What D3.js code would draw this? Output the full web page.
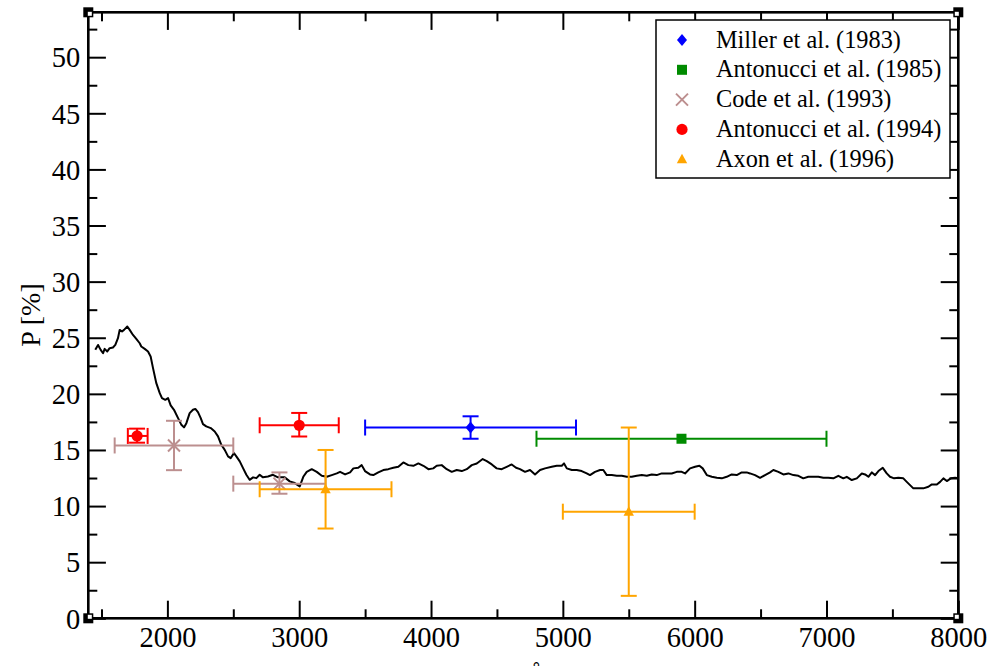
<!DOCTYPE html>
<html><head><meta charset="utf-8">
<script src="https://cdn.jsdelivr.net/npm/d3@7"></script>
<style>body{margin:0;background:#fff}svg{display:block}</style>
</head><body>
<svg id="chart" width="991" height="666"></svg>
<script>
// ---------- data ----------
const curveWavelength = [1453,1474,1494,1512,1524,1544,1562,1587,1605,1625,1638,1656,1671,1696,1714,1739,1764,1790,1802,1828,1853,1873,1891,1916,1942,1959,1984,2005,2025,2050,2081,2106,2126,2144,2169,2194,2212,2232,2253,2270,2295,2329,2359,2384,2409,2435,2460,2480,2505,2523,2549,2574,2599,2624,2650,2675,2700,2725,2763,2801,2839,2890,2928,2966,3004,3031,3057,3095,3133,3171,3209,3247,3285,3310,3348,3386,3411,3448,3474,3499,3537,3562,3600,3638,3676,3714,3752,3790,3828,3866,3904,3942,3980,4017,4043,4081,4119,4157,4195,4233,4271,4309,4347,4392,4423,4461,4498,4536,4574,4612,4645,4675,4713,4751,4789,4827,4865,4916,4954,4992,5009,5030,5068,5105,5143,5181,5206,5244,5282,5307,5333,5371,5409,5447,5485,5523,5561,5599,5637,5674,5712,5750,5788,5826,5864,5902,5927,5965,6003,6036,6061,6092,6130,6168,6206,6243,6281,6319,6357,6395,6420,6458,6496,6534,6572,6597,6635,6673,6711,6749,6787,6824,6862,6900,6938,6976,7014,7052,7090,7128,7154,7192,7230,7268,7293,7318,7344,7369,7394,7427,7457,7482,7513,7545,7583,7609,7634,7659,7697,7735,7773,7799,7837,7862,7887,7913,7943,7976,8000];
const curvePolarization = [23.92,24.36,23.92,23.62,24.01,23.78,24.07,24.13,24.36,24.96,25.70,25.56,25.70,26.0,25.70,25.25,24.90,24.51,24.22,24.01,23.78,23.33,22.29,20.95,20.06,19.62,19.47,19.62,18.97,18.58,17.84,17.24,17.01,17.39,18.28,18.58,18.66,18.37,17.84,17.30,17.10,16.95,16.65,16.21,15.46,15.01,14.43,14.27,14.72,14.43,13.98,13.38,12.79,12.34,12.56,12.49,12.79,12.56,12.64,12.79,12.56,12.56,12.20,12.05,11.75,12.61,13.05,13.29,13.05,12.70,12.61,12.76,12.91,13.05,12.82,13.00,13.36,13.41,13.65,13.12,12.82,12.76,13.00,13.21,13.29,13.41,13.50,13.89,13.65,13.59,13.80,13.59,13.29,13.36,13.59,13.65,13.29,13.05,13.21,13.12,13.29,13.65,13.80,14.19,14.01,13.71,13.36,13.29,13.50,13.71,13.41,13.29,13.05,13.21,12.82,13.21,13.36,13.50,13.59,13.59,13.80,13.36,13.21,13.21,13.12,12.91,12.76,13.05,13.21,13.21,12.76,12.76,12.70,12.70,12.61,12.61,12.70,12.76,12.70,12.82,12.76,12.91,12.91,12.91,13.05,13.05,12.91,13.36,13.50,13.59,13.36,12.76,12.61,12.52,12.47,12.61,12.82,12.76,13.00,13.00,12.91,12.76,12.52,12.76,13.00,13.21,13.05,12.82,12.91,12.76,12.70,12.47,12.61,12.61,12.61,12.52,12.52,12.47,12.70,12.47,12.61,12.32,12.47,12.91,12.82,12.61,13.00,12.76,13.12,13.41,12.91,12.61,12.47,12.52,12.47,12.16,11.87,11.58,11.58,11.58,11.72,11.93,11.93,12.16,12.47,12.23,12.47,12.52,12.49];

const seriesLabels = ["Miller et al. (1983)","Antonucci et al. (1985)","Code et al. (1993)","Antonucci et al. (1994)","Axon et al. (1996)"];
const millerPoints      = [{x:4300,y:17.0,xLo:3500,xHi:5100,yLo:16.0,yHi:18.0}];
const antonucci85Points = [{x:5900,y:16.0,xLo:4800,xHi:7000,yLo:16.0,yHi:16.0}];
const codePoints        = [{x:2050,y:15.4,xLo:1600,xHi:2500,yLo:13.2,yHi:17.6},
                           {x:2850,y:12.0,xLo:2500,xHi:3200,yLo:11.1,yHi:13.0}];
const antonucci94Points = [{x:1770,y:16.25,xLo:1700,xHi:1850,yLo:15.65,yHi:16.9},
                           {x:3000,y:17.2,xLo:2700,xHi:3300,yLo:16.2,yHi:18.3}];
const axonPoints        = [{x:3200,y:11.5,xLo:2700,xHi:3700,yLo:8.0,yHi:15.0},
                           {x:5500,y:9.5,xLo:5000,xHi:6000,yLo:2.0,yHi:17.0}];

const xMajorTicks = [2000,3000,4000,5000,6000,7000,8000];
const xMinorTicks = [1500,2500,3500,4500,5500,6500,7500];
const yMajorTicks = [0,5,10,15,20,25,30,35,40,45,50];
const yMinorTicks = [2.5,7.5,12.5,17.5,22.5,27.5,32.5,37.5,42.5,47.5,52.5];
const yTitle = "P [%]";
const xTitle = "\u03bb [\u00c5]";

// ---------- styles ----------
const seriesColors = ["#0000ff","#008b00","#bc8f8f","#ff0000","#ffa500"];
const seriesSymbols = ["diamond","square","x","circle","triangle"];
const FONT = "'Liberation Serif','Times New Roman',Times,serif";

const L = 88.3, R = 958.3, T = 12.3, B = 618.3;
const svg = d3.select("#chart");
const x = d3.scaleLinear().domain([1400, 8000]).range([L, R]);
const y = d3.scaleLinear().domain([0, 54]).range([B, T]);

function drawSymbol(g, type, color) {
  if (type === "diamond") g.append("path").attr("d","M0,-6L5,0L0,6L-5,0Z").attr("fill",color);
  else if (type === "square") g.append("rect").attr("x",-5).attr("y",-5).attr("width",10).attr("height",10).attr("fill",color);
  else if (type === "circle") g.append("circle").attr("r",5.6).attr("fill",color);
  else if (type === "triangle") g.append("path").attr("d","M0,-5.5L5.2,4L-5.2,4Z").attr("fill",color);
  else if (type === "x") g.append("path").attr("d","M-6,-6L6,6M6,-6L-6,6").attr("stroke",color).attr("stroke-width",2).attr("fill","none");
}

// ---------- axes (ticks inward) ----------
function styleAxis(g, fs) {
  g.select(".domain").remove();
  g.selectAll(".tick line").attr("stroke","#000").attr("stroke-width",2);
  g.selectAll(".tick text").attr("font-family",FONT).attr("font-size",fs).attr("fill","#000");
}
const bottom = svg.append("g").attr("transform",`translate(0,${B})`)
  .call(d3.axisBottom(x).tickValues(xMajorTicks).tickSize(-17.6).tickSizeOuter(0).tickPadding(9).tickFormat(d3.format("d")));
styleAxis(bottom, 28.5);
bottom.selectAll(".tick text").attr("y", 0).attr("dy", 0).attr("transform","translate(0,28.7)");
const bottomMinor = svg.append("g").attr("transform",`translate(0,${B})`)
  .call(d3.axisBottom(x).tickValues(xMinorTicks).tickSize(-9).tickSizeOuter(0).tickFormat(""));
styleAxis(bottomMinor, 0);

const top_ = svg.append("g").attr("transform",`translate(0,${T})`)
  .call(d3.axisTop(x).tickValues(xMajorTicks).tickSize(-17.6).tickSizeOuter(0).tickFormat(""));
styleAxis(top_, 0);
const topMinor = svg.append("g").attr("transform",`translate(0,${T})`)
  .call(d3.axisTop(x).tickValues(xMinorTicks).tickSize(-9).tickSizeOuter(0).tickFormat(""));
styleAxis(topMinor, 0);

const left = svg.append("g").attr("transform",`translate(${L},0)`)
  .call(d3.axisLeft(y).tickValues(yMajorTicks).tickSize(-17.6).tickSizeOuter(0).tickPadding(8).tickFormat(d3.format("d")));
styleAxis(left, 28.5);
left.selectAll(".tick text").attr("x", -8).attr("dy", "0.34em");
const leftMinor = svg.append("g").attr("transform",`translate(${L},0)`)
  .call(d3.axisLeft(y).tickValues(yMinorTicks).tickSize(-9).tickSizeOuter(0).tickFormat(""));
styleAxis(leftMinor, 0);

const right = svg.append("g").attr("transform",`translate(${R},0)`)
  .call(d3.axisRight(y).tickValues(yMajorTicks).tickSize(-17.6).tickSizeOuter(0).tickFormat(""));
styleAxis(right, 0);
const rightMinor = svg.append("g").attr("transform",`translate(${R},0)`)
  .call(d3.axisRight(y).tickValues(yMinorTicks).tickSize(-9).tickSizeOuter(0).tickFormat(""));
styleAxis(rightMinor, 0);

// ---------- curve ----------
const curve = curveWavelength.map((w,i)=>({w, p: curvePolarization[i]}));
svg.append("path").datum(curve)
  .attr("d", d3.line().x(d=>x(d.w)).y(d=>y(d.p)))
  .attr("fill","none").attr("stroke","#000").attr("stroke-width",2).attr("stroke-linejoin","round");

// ---------- error bars + markers ----------
const datasets = [millerPoints, antonucci85Points, codePoints, antonucci94Points, axonPoints];
const CAP = 8;
datasets.forEach((pts, si) => {
  const col = seriesColors[si];
  const g = svg.append("g").attr("stroke", col).attr("stroke-width", 2).attr("fill","none");
  pts.forEach(p => {
    const cx = x(p.x), cy = y(p.y);
    g.append("line").attr("x1",x(p.xLo)).attr("x2",x(p.xHi)).attr("y1",cy).attr("y2",cy);
    g.append("line").attr("x1",x(p.xLo)).attr("x2",x(p.xLo)).attr("y1",cy-CAP).attr("y2",cy+CAP);
    g.append("line").attr("x1",x(p.xHi)).attr("x2",x(p.xHi)).attr("y1",cy-CAP).attr("y2",cy+CAP);
    if (p.yHi !== p.yLo) {
      g.append("line").attr("x1",cx).attr("x2",cx).attr("y1",y(p.yLo)).attr("y2",y(p.yHi));
      g.append("line").attr("x1",cx-CAP).attr("x2",cx+CAP).attr("y1",y(p.yLo)).attr("y2",y(p.yLo));
      g.append("line").attr("x1",cx-CAP).attr("x2",cx+CAP).attr("y1",y(p.yHi)).attr("y2",y(p.yHi));
    }
    const m = svg.append("g").attr("transform",`translate(${cx},${cy})`);
    drawSymbol(m, seriesSymbols[si], col);
  });
});

// ---------- frame ----------
svg.append("rect").attr("x",L).attr("y",T).attr("width",R-L).attr("height",B-T)
  .attr("fill","none").attr("stroke","#000").attr("stroke-width",2.6);
[[L,T,1,1],[R,T,-1,1],[L,B,1,-1],[R,B,-1,-1]].forEach(([cx,cy,sx,sy])=>{
  svg.append("rect").attr("x",cx-5).attr("y",cy-5).attr("width",10).attr("height",10).attr("fill","#000");
  svg.append("rect").attr("x", sx>0 ? cx-0.5 : cx-3.5).attr("y", sy>0 ? cy-0.5 : cy-3.5)
    .attr("width",4).attr("height",4).attr("fill","#fff");
});

// ---------- legend ----------
const lg = svg.append("g");
lg.append("rect").attr("x",656).attr("y",20).attr("width",294).attr("height",158)
  .attr("fill","#fff").attr("stroke","#000").attr("stroke-width",1.5);
seriesLabels.forEach((lab, i) => {
  const yy = 40 + i*29.8;
  const m = lg.append("g").attr("transform",`translate(682,${yy})`);
  drawSymbol(m, seriesSymbols[i], seriesColors[i]);
  lg.append("text").attr("x",716).attr("y",yy+7.5).attr("font-family",FONT).attr("font-size",24.3)
    .attr("fill","#000").text(lab);
});

// ---------- titles ----------
svg.append("text").attr("transform","translate(40,315) rotate(-90)").attr("text-anchor","middle")
  .attr("font-family",FONT).attr("font-size",28).attr("fill","#000").text(yTitle);
svg.append("text").attr("x",(L+R)/2 + 3).attr("y",685).attr("text-anchor","middle")
  .attr("font-family",FONT).attr("font-size",28).attr("fill","#000").text(xTitle);
</script>
</body></html>
